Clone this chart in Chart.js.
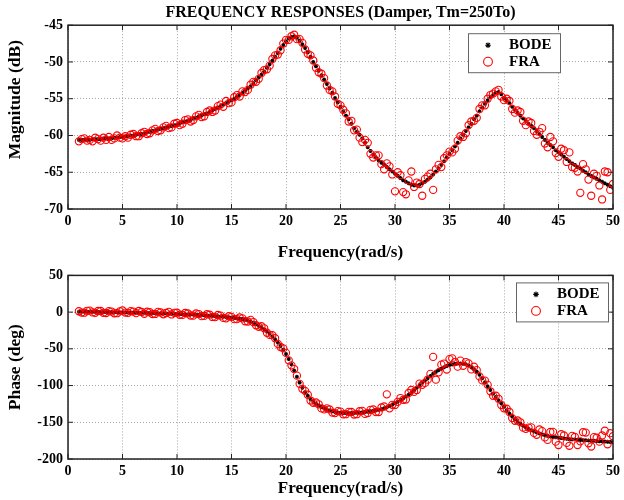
<!DOCTYPE html>
<html>
<head>
<meta charset="utf-8">
<script src="https://cdn.jsdelivr.net/npm/chart.js@4.4.1/dist/chart.umd.min.js"></script>
<style>
body { margin: 0; background: #fff; }
#wrap { position: relative; width: 624px; height: 500px; }
#mag { position: absolute; left: 0; top: 0; }
#pha { position: absolute; left: 0; top: 262px; }
</style>
</head>
<body>
<div id="wrap">
<canvas id="mag" width="624" height="262"></canvas>
<canvas id="pha" width="624" height="238"></canvas>
</div>
<script>
// frequency points (rad/s), 0.25 apart
const freq = [
  1,1.25,1.5,1.75,2,2.25,2.5,2.75,3,3.25,3.5,3.75,4,4.25,4.5,4.75,5,5.25,5.5,5.75,
  6,6.25,6.5,6.75,7,7.25,7.5,7.75,8,8.25,8.5,8.75,9,9.25,9.5,9.75,10,10.25,10.5,10.75,
  11,11.25,11.5,11.75,12,12.25,12.5,12.75,13,13.25,13.5,13.75,14,14.25,14.5,14.75,15,15.25,15.5,15.75,
  16,16.25,16.5,16.75,17,17.25,17.5,17.75,18,18.25,18.5,18.75,19,19.25,19.5,19.75,20,20.25,20.5,20.75,
  21,21.25,21.5,21.75,22,22.25,22.5,22.75,23,23.25,23.5,23.75,24,24.25,24.5,24.75,25,25.25,25.5,25.75,
  26,26.25,26.5,26.75,27,27.25,27.5,27.75,28,28.25,28.5,28.75,29,29.25,29.5,29.75,30,30.25,30.5,30.75,
  31,31.25,31.5,31.75,32,32.25,32.5,32.75,33,33.25,33.5,33.75,34,34.25,34.5,34.75,35,35.25,35.5,35.75,
  36,36.25,36.5,36.75,37,37.25,37.5,37.75,38,38.25,38.5,38.75,39,39.25,39.5,39.75,40,40.25,40.5,40.75,
  41,41.25,41.5,41.75,42,42.25,42.5,42.75,43,43.25,43.5,43.75,44,44.25,44.5,44.75,45,45.25,45.5,45.75,
  46,46.25,46.5,46.75,47,47.25,47.5,47.75,48,48.25,48.5,48.75,49,49.25,49.5,49.75,50
];

// magnitude (dB)
const bodeMag = [
  -60.6,-60.6,-60.6,-60.6,-60.6,-60.5,-60.5,-60.5,-60.5,-60.4,-60.4,-60.4,-60.4,-60.3,-60.3,-60.2,-60.2,-60.1,-60.1,-60.0,
  -60.0,-59.9,-59.8,-59.8,-59.7,-59.6,-59.5,-59.4,-59.3,-59.2,-59.1,-59.0,-58.9,-58.8,-58.7,-58.6,-58.5,-58.4,-58.2,-58.1,
  -58.0,-57.9,-57.7,-57.6,-57.4,-57.3,-57.1,-57.0,-56.8,-56.6,-56.4,-56.2,-56.0,-55.8,-55.6,-55.4,-55.2,-55.0,-54.7,-54.5,
  -54.2,-53.9,-53.6,-53.3,-52.9,-52.5,-52.1,-51.7,-51.3,-50.8,-50.3,-49.8,-49.3,-48.8,-48.2,-47.7,-47.2,-46.8,-46.6,-46.5,
  -46.7,-47.1,-47.6,-48.1,-48.7,-49.3,-50.0,-50.6,-51.2,-51.8,-52.4,-53.0,-53.6,-54.2,-54.9,-55.5,-56.1,-56.7,-57.3,-57.8,
  -58.4,-59.0,-59.5,-59.9,-60.4,-61.0,-61.6,-62.1,-62.6,-63.0,-63.4,-63.7,-64.0,-64.3,-64.6,-64.9,-65.2,-65.5,-65.8,-66.1,
  -66.3,-66.5,-66.7,-66.8,-66.8,-66.7,-66.5,-66.3,-66.0,-65.7,-65.3,-64.9,-64.5,-64.0,-63.5,-63.0,-62.5,-62.0,-61.5,-61.0,
  -60.4,-59.9,-59.4,-58.9,-58.4,-57.8,-57.3,-56.7,-56.2,-55.7,-55.2,-54.8,-54.5,-54.2,-54.1,-54.4,-54.9,-55.2,-55.6,-56.1,
  -56.5,-56.9,-57.3,-57.7,-58.0,-58.4,-58.7,-59.0,-59.4,-59.8,-60.2,-60.6,-61.0,-61.3,-61.6,-62.0,-62.3,-62.6,-62.9,-63.2,
  -63.5,-63.8,-64.0,-64.3,-64.5,-64.8,-65.0,-65.3,-65.5,-65.7,-65.9,-66.1,-66.3,-66.5,-66.7,-66.9,-67.1
];
const fraMag = [
  -60.8,-60.5,-60.4,-60.7,-60.6,-60.8,-60.3,-60.5,-60.7,-60.3,-60.6,-60.2,-60.6,-60.4,-60.0,-60.3,-60.4,-60.1,-60.3,-59.9,
  -59.8,-60.1,-60.1,-59.7,-59.5,-59.8,-59.7,-59.3,-59.1,-59.4,-59.3,-58.9,-58.7,-59.0,-58.9,-58.4,-58.3,-58.6,-58.4,-57.9,
  -57.8,-58.1,-57.9,-57.4,-57.2,-57.5,-57.4,-56.8,-56.6,-56.8,-56.6,-56.0,-55.8,-56.1,-55.3,-55.6,-55.5,-54.8,-54.5,-54.7,
  -54.0,-54.1,-53.8,-53.1,-52.7,-52.7,-52.3,-51.5,-51.1,-51.0,-50.5,-49.6,-49.1,-49.0,-48.4,-47.5,-47.0,-47.0,-46.5,-46.3,
  -46.9,-46.9,-47.4,-48.3,-48.9,-49.1,-49.8,-50.8,-51.4,-51.6,-52.2,-53.2,-53.8,-54.0,-54.7,-55.7,-55.9,-56.5,-57.0,-58.1,
  -58.0,-59.3,-59.2,-60.3,-60.9,-60.6,-61.0,-62.5,-63.0,-62.7,-62.7,-63.9,-64.6,-63.8,-64.2,-65.3,-67.6,-65.0,-65.4,-67.7,
  -68.0,-66.1,-64.9,-67.0,-66.4,-66.6,-68.2,-65.9,-65.6,-65.2,-67.4,-64.6,-64.0,-64.3,-63.1,-62.7,-62.2,-62.3,-61.8,-60.7,
  -60.1,-60.2,-59.7,-58.6,-58.1,-58.0,-57.6,-56.4,-55.9,-55.9,-55.0,-54.5,-54.3,-54.0,-53.8,-54.7,-55.2,-55.0,-55.3,-56.4,
  -56.9,-56.6,-56.8,-58.0,-58.6,-58.1,-58.3,-59.4,-59.9,-59.5,-59.0,-61.1,-61.6,-60.2,-60.8,-62.4,-62.9,-61.8,-62.0,-63.6,
  -62.3,-64.3,-64.4,-64.9,-67.8,-63.9,-64.6,-66.0,-68.2,-65.2,-65.5,-66.8,-68.7,-64.9,-65.0,-67.4,-66.6
];

// phase (deg)
const bodePha = [
  0.5,0.5,0.5,0.4,0.5,0.4,0.3,0.3,0.2,0.1,0,0,0,-0.1,-0.2,-0.2,-0.3,-0.4,-0.5,-0.5,
  -0.6,-0.7,-0.8,-0.9,-1.0,-1.1,-1.2,-1.3,-1.4,-1.5,-1.6,-1.8,-1.9,-2.0,-2.2,-2.3,-2.5,-2.7,-2.9,-3.0,
  -3.1,-3.2,-3.4,-3.6,-3.8,-4.0,-4.3,-4.5,-4.8,-5.1,-5.4,-5.7,-6.0,-6.3,-6.7,-7.1,-7.5,-7.9,-8.4,-8.9,
  -9.5,-10.4,-11.5,-12.9,-14.5,-16.4,-18.5,-20.9,-23.5,-26.4,-29.5,-33.1,-37,-41.4,-46,-51.3,-57,-63.8,-71,-79.5,
  -88,-96,-103,-109,-114,-118.5,-122,-124.8,-127,-129.2,-131,-132.6,-134,-135,-136,-136.6,-137,-137.3,-137.5,-137.6,
  -137.5,-137.3,-137,-136.8,-136.5,-136,-135.5,-135,-134.5,-133.8,-133,-132.1,-131,-129.6,-128,-126,-124,-122,-120,-117.6,
  -115,-112.6,-110,-106.6,-103,-99.5,-96,-93,-90,-87,-84,-81.4,-79,-77,-75,-73.4,-72,-71.2,-70.5,-70.1,
  -70,-70.3,-71,-72.6,-75,-77.8,-81,-85.2,-90,-95.5,-101,-106,-111,-115.6,-120,-124.5,-129,-133.6,-138,-142,
  -146,-149.2,-152,-154.6,-157,-159.1,-161,-162.6,-164,-165.3,-166.5,-167.5,-168.5,-169.3,-170,-170.5,-171,-171.5,-172,-172.5,
  -173,-173.3,-173.5,-173.8,-174,-174.3,-174.5,-174.8,-175,-175.3,-175.5,-175.8,-176,-176.3,-176.5,-176.8,-177
];
const fraPha = [
  1.2,-0.6,-0.8,1.8,2.0,-0.4,-1.0,1.6,1.5,-0.9,-1.2,1.3,0.8,-1.6,-1.5,1.0,2.2,-0.6,-1.0,1.4,
  0.8,-1.4,1.5,0.2,-2.2,0.6,-0.2,-2.6,-2.5,0.3,-0.5,-3.0,-1.2,0.4,-3.2,-1.0,-0.8,-3.6,-3.8,-1.2,
  -1.8,-4.6,-4.8,-1.9,-2.6,-5.5,-5.2,-2.8,-3.5,-6.6,-6.8,-3.9,-4.8,-7.9,-8.5,-5.6,-6.5,-9.6,-9.6,-7.3,
  -8.5,-12.4,-12.8,-10.6,-13.5,-17.9,-20,-19.2,-22,-28.1,-31,-31.4,-35.5,-43.3,-47.5,-49.4,-55.5,-65.7,-72.5,-77.5,
  -86.5,-97.7,-104.5,-107.2,-112.5,-120.4,-123.5,-123.1,-125.5,-131.1,-132.5,-131,-132.5,-136.8,-137.5,-134.8,-135.5,-139.2,-139,-135.8,
  -136,-139.5,-139,-134.9,-134.5,-138.6,-137.5,-133.1,-132.5,-136,-136,-129.8,-128.5,-112,-131,-126.3,-126.5,-122.2,-117,-119.4,
  -119,-110.1,-106,-108.6,-106,-97.3,-99,-96.4,-92,-84.1,-61,-92,-82,-71.5,-70,-78.1,-64,-63,-68,-74.3,
  -66,-73.1,-68,-69.8,-78,-74.3,-79,-87.5,-93,-93.2,-99,-107.8,-114,-113.9,-118,-126.5,-131,-131.6,-136,-144.3,
  -148,-147.5,-150,-157.3,-159,-157.2,-157,-164.5,-167,-159.8,-162,-170.6,-174,-163.2,-163,-176.4,-181,-166.2,-168,-178.1,
  -182,-168.5,-170,-181,-176,-163.5,-164,-178.6,-183,-170.2,-171,-176.4,-168,-161.5,-180,-164.9,-169
];

const serif = '"Liberation Serif", "Times New Roman", serif';
Chart.defaults.font.family = serif;
Chart.defaults.font.weight = 'bold';
Chart.defaults.color = '#000';

// box around the plot with inward ticks on all four sides
const frame = {
  id: 'frame',
  afterDraw(chart) {
    const { ctx, chartArea: a, scales: { x, y } } = chart;
    ctx.save();
    ctx.strokeStyle = '#222';
    ctx.lineWidth = 1.5;
    ctx.strokeRect(a.left, a.top, a.right - a.left, a.bottom - a.top);
    ctx.lineWidth = 1;
    ctx.beginPath();
    x.ticks.forEach(t => {
      const px = x.getPixelForValue(t.value);
      ctx.moveTo(px, a.bottom); ctx.lineTo(px, a.bottom - 5);
      ctx.moveTo(px, a.top); ctx.lineTo(px, a.top + 5);
    });
    y.ticks.forEach(t => {
      const py = y.getPixelForValue(t.value);
      ctx.moveTo(a.left, py); ctx.lineTo(a.left + 5, py);
      ctx.moveTo(a.right, py); ctx.lineTo(a.right - 5, py);
    });
    ctx.stroke();
    ctx.restore();
  }
};

// matlab-like legend box inside the plot
const boxLegend = {
  id: 'boxLegend',
  afterDraw(chart, args, opts) {
    const { ctx, chartArea: a } = chart;
    const w = 92, h = 39;
    const left = a.right - opts.right - w, top = a.top + opts.top;
    ctx.save();
    ctx.fillStyle = '#fff';
    ctx.fillRect(left, top, w, h);
    ctx.strokeStyle = '#666';
    ctx.lineWidth = 1;
    ctx.strokeRect(left + 0.5, top + 0.5, w, h);
    chart.data.datasets.forEach((ds, i) => {
      const cy = top + 12 + i * 16.5;
      ctx.strokeStyle = ds.borderColor;
      ctx.fillStyle = ds.backgroundColor;
      ctx.lineWidth = ds.borderWidth;
      Chart.helpers.drawPoint(ctx, { pointStyle: ds.pointStyle, radius: ds.pointRadius + 0.8, borderWidth: ds.borderWidth, rotation: 0 }, left + 20, cy);
      ctx.fillStyle = '#000';
      ctx.font = 'bold 15px ' + serif;
      ctx.textBaseline = 'middle';
      ctx.textAlign = 'left';
      ctx.fillText(ds.label, left + 41, cy);
    });
    ctx.restore();
  }
};

function makeChart(id, bode, fra, yMin, yMax, yStep, yTitle, opt) {
  return new Chart(document.getElementById(id), {
    type: 'scatter',
    data: {
      datasets: [{
        label: 'BODE',
        data: freq.map((f, i) => ({ x: f, y: bode[i] })),
        order: 1,
        pointStyle: 'star',
        pointRadius: 2,
        borderWidth: 1.1,
        borderColor: '#000',
        backgroundColor: '#000'
      }, {
        label: 'FRA',
        data: freq.map((f, i) => ({ x: f, y: fra[i] })),
        order: 0,
        pointStyle: 'circle',
        pointRadius: 3.6,
        borderWidth: 1.1,
        borderColor: '#ff0000',
        backgroundColor: 'rgba(0,0,0,0)'
      }]
    },
    options: {
      responsive: false,
      animation: false,
      events: [],
      layout: { padding: { top: opt.padTop, right: 7, left: 0, bottom: 0 } },
      scales: {
        x: {
          type: 'linear',
          min: 0,
          max: 50,
          afterFit: s => { s.height = opt.xHeight; },
          ticks: { stepSize: 5, padding: 4, font: { size: 14 } },
          grid: { color: '#a8a8a8', drawTicks: false },
          border: { display: false, dash: [1, 2] },
          title: { display: true, text: 'Frequency(rad/s)', font: { size: 17, lineHeight: 1 }, padding: { top: 0, bottom: opt.xTitlePad } }
        },
        y: {
          min: yMin,
          max: yMax,
          afterFit: s => { s.width = 68; },
          ticks: { stepSize: yStep, padding: 5, font: { size: 14 } },
          grid: { color: '#a8a8a8', drawTicks: false },
          border: { display: false, dash: [1, 2] },
          title: { display: true, text: yTitle, font: { size: 17.5, lineHeight: 1 }, padding: { top: 6.5, bottom: 0 } }
        }
      },
      plugins: {
        legend: { display: false },
        tooltip: { enabled: false },
        title: opt.title ? {
          display: true,
          text: opt.title,
          fullSize: false,
          font: { size: 16, lineHeight: 1.2 },
          padding: { top: 3, bottom: 3 }
        } : { display: false },
        boxLegend: { right: opt.legRight, top: opt.legTop }
      }
    },
    plugins: [frame, boxLegend]
  });
}

// leading spaces lift the magnitude label, as in the original figure
makeChart('mag', bodeMag, fraMag, -70, -45, 5, '        Magnitude (dB)',
  { padTop: 0, xHeight: 53, xTitlePad: 0.5, legRight: 53, legTop: 8, title: 'FREQUENCY RESPONSES (Damper, Tm=250To)' });
makeChart('pha', bodePha, fraPha, -200, 50, 50, 'Phase (deg)',
  { padTop: 13, xHeight: 41, xTitlePad: 2.5, legRight: 5, legTop: 7 });
</script>
</body>
</html>
